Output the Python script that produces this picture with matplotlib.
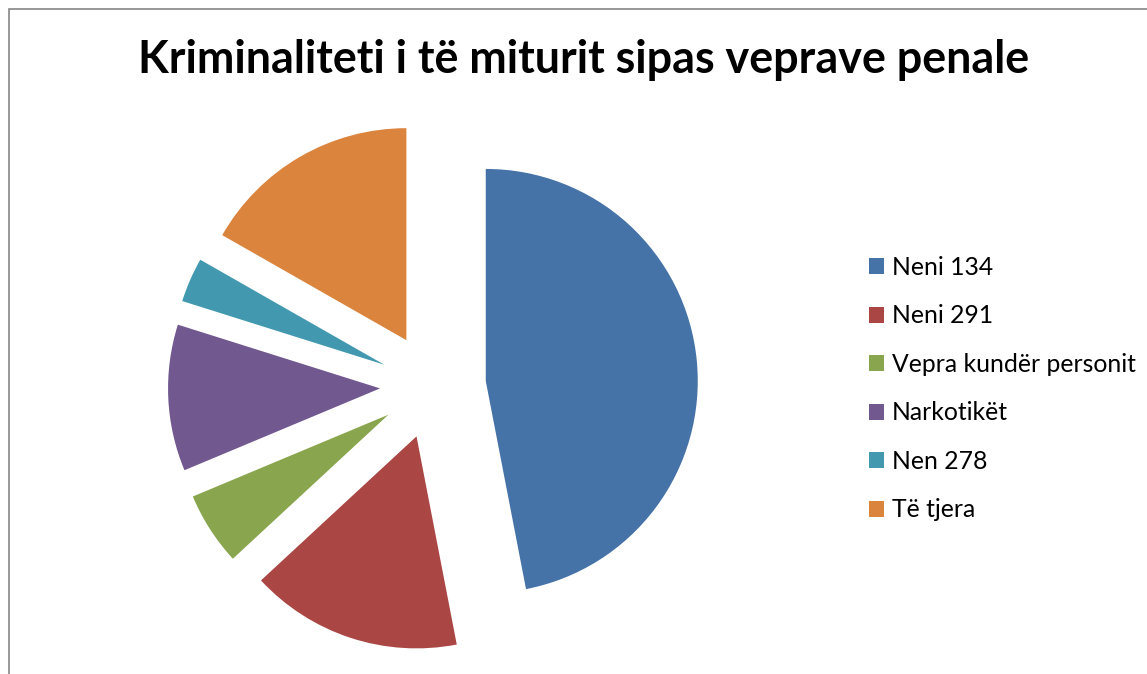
import matplotlib
matplotlib.use("Agg")
import matplotlib.pyplot as plt
from matplotlib.patches import Rectangle

#---------------------------------Datos------------------------------------
labels = ["Neni 134", "Neni 291", "Vepra kundër personit", "Narkotikët", "Nen 278", "Të tjera"]
values = [47.1, 16.2, 5.6, 11.2, 3.4, 16.8]
colors = ["#4572A7", "#AA4643", "#89A54E", "#71588F", "#4198AF", "#DB843D"]
explode = [0.25] * len(values)
title = "Kriminaliteti i të miturit sipas veprave penale"
#--------------------------------------------------------------------------

W, H = 1147, 674
fig = plt.figure(figsize=(W / 100, H / 100), dpi=100)
plt.rcParams['font.family'] = ['Lato', 'DejaVu Sans']

# pie centre and radius in pixels
cx, cy, R = 433, 386, 212
half = 280
ax = fig.add_axes([(cx - half) / W, 1 - (cy + half) / H, 2 * half / W, 2 * half / H])
wedges, _ = ax.pie(values, colors=colors, explode=explode, startangle=90,
                   counterclock=False, radius=1)
ax.set_xlim(-half / R, half / R)
ax.set_ylim(-half / R, half / R)
ax.set_aspect('auto')
ax.axis('off')

fig.text(584 / W, 1 - 60 / H, title, ha='center', va='center',
         fontsize=32.3, fontweight='bold')

fig.legend(wedges, labels, loc='upper left', bbox_to_anchor=(869 / W, 1 - 256 / H),
           frameon=False, fontsize=17.8, handlelength=0.62, handleheight=0.62,
           handletextpad=0.3, labelspacing=1.03, borderpad=0, borderaxespad=0)

# chart border
fig.add_artist(Rectangle((9 / W, -0.1), 1.2, 1 - 9 / H + 0.1, transform=fig.transFigure,
                         fill=False, edgecolor='#868686', lw=1.2))

plt.savefig("out.png", dpi=100)
